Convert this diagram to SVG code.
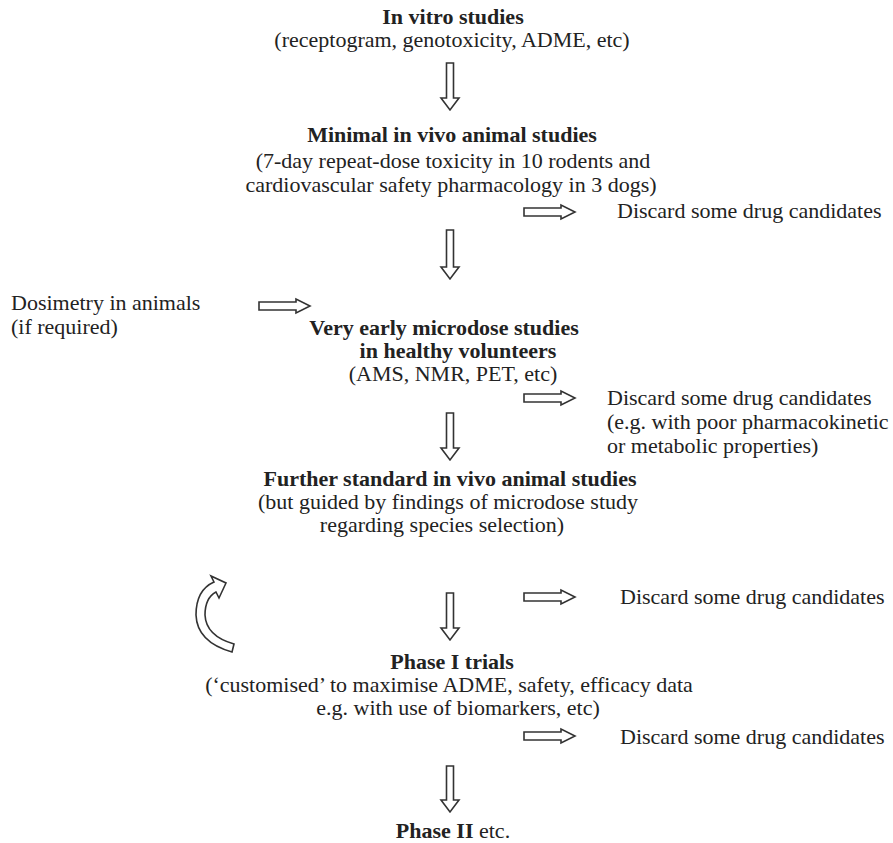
<svg xmlns="http://www.w3.org/2000/svg" width="893" height="843" viewBox="0 0 893 843">
<style>
text{font-family:"Liberation Serif","Times New Roman",serif;font-size:22px;fill:#222}
.b{font-weight:bold}
.c{text-anchor:middle}
.arr{fill:#fff;stroke:#333;stroke-width:1.6;stroke-linejoin:miter}
</style>
<rect width="893" height="843" fill="#fff"/>
<g id="n1"><text class="b c" x="453" y="24">In vitro studies</text><text class="c" x="452" y="47">(receptogram, genotoxicity, ADME, etc)</text></g>
<g id="n2"><text class="b c" x="452" y="142">Minimal in vivo animal studies</text><text class="c" x="453" y="168">(7-day repeat-dose toxicity in 10 rodents and</text><text class="c" x="451" y="192">cardiovascular safety pharmacology in 3 dogs)</text></g>
<g id="d1"><text x="617" y="218">Discard some drug candidates</text></g>
<g id="dos"><text x="11" y="310">Dosimetry in animals</text><text x="11" y="334">(if required)</text></g>
<g id="n3"><text class="b c" x="444" y="335">Very early microdose studies</text><text class="b c" x="458" y="358">in healthy volunteers</text><text class="c" x="453" y="381">(AMS, NMR, PET, etc)</text></g>
<g id="d2"><text x="607" y="405">Discard some drug candidates</text><text x="607" y="429">(e.g. with poor pharmacokinetic</text><text x="607" y="453">or metabolic properties)</text></g>
<g id="n4"><text class="b c" x="450" y="486">Further standard in vivo animal studies</text><text class="c" x="448" y="509">(but guided by findings of microdose study</text><text class="c" x="442" y="532">regarding species selection)</text></g>
<g id="d3"><text x="620" y="604">Discard some drug candidates</text></g>
<g id="n5"><text class="b c" x="452" y="669">Phase I trials</text><text class="c" x="449" y="692">(‘customised’ to maximise ADME, safety, efficacy data</text><text class="c" x="458" y="715">e.g. with use of biomarkers, etc)</text></g>
<g id="d4"><text x="620" y="744">Discard some drug candidates</text></g>
<g id="n6"><text class="c" x="453" y="838"><tspan class="b">Phase II</tspan> etc.</text></g>
<g id="connectors">
<path class="arr" d="M446.5 63H453.5V98H459L450 110L441 98H446.5Z"/>
<path class="arr" d="M446.5 230H453.5V267H459L450 279L441 267H446.5Z"/>
<path class="arr" d="M446.5 413H453.5V448H459L450 460L441 448H446.5Z"/>
<path class="arr" d="M446.5 593H453.5V628H459L450 640L441 628H446.5Z"/>
<path class="arr" d="M446.5 766H453.5V800H459L450 812L441 800H446.5Z"/>
<path class="arr" d="M524 208H561V205L575 212L561 219V216H524Z"/>
<path class="arr" d="M259 302H296V299L310 306L296 313V310H259Z"/>
<path class="arr" d="M524 394H561V391L575 398L561 405V402H524Z"/>
<path class="arr" d="M524 593H561V590L575 597L561 604V601H524Z"/>
<path class="arr" d="M524 732H561V729L575 736L561 743V740H524Z"/>
<path class="arr" d="M214 582Q196 590 196 615Q197 642 232 652L234 644Q206 636 205 615Q205 598 216 592L219 598L226 583L211 576Z"/>
</g>
</svg>
